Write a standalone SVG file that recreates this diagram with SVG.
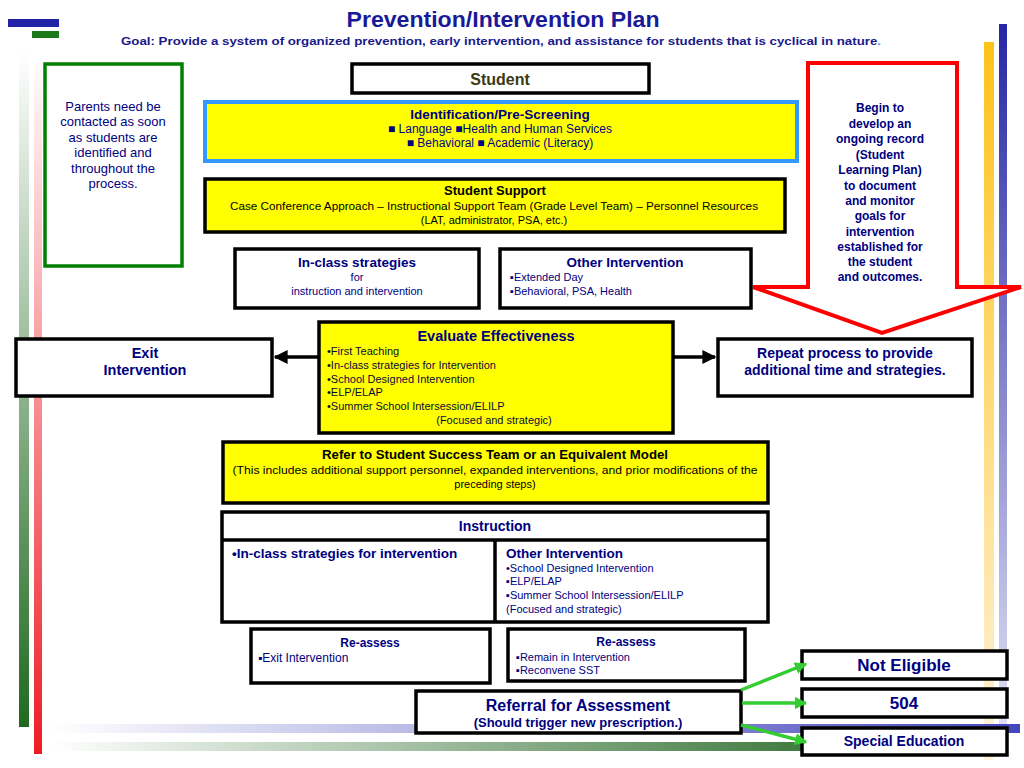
<svg xmlns="http://www.w3.org/2000/svg" width="1024" height="768" viewBox="0 0 1024 768">
<defs>
<linearGradient id="gGreenV" x1="0" y1="0" x2="0" y2="1"><stop offset="0" stop-color="#ffffff"/><stop offset="1" stop-color="#1f6a1f"/></linearGradient>
<linearGradient id="gRedV" x1="0" y1="0" x2="0" y2="1"><stop offset="0" stop-color="#ffffff"/><stop offset="1" stop-color="#ee1c24"/></linearGradient>
<linearGradient id="gYelV" x1="0" y1="0" x2="0" y2="1"><stop offset="0" stop-color="#ffc21a"/><stop offset="1" stop-color="#fff3dc"/></linearGradient>
<linearGradient id="gBlueV" x1="0" y1="0" x2="0" y2="1"><stop offset="0" stop-color="#2626a6"/><stop offset="1" stop-color="#e6e6f4"/></linearGradient>
<linearGradient id="gBlueH" x1="0" y1="0" x2="1" y2="0"><stop offset="0" stop-color="#ffffff"/><stop offset="1" stop-color="#4646bc"/></linearGradient>
<linearGradient id="gGreenH" x1="0" y1="0" x2="1" y2="0"><stop offset="0" stop-color="#ffffff"/><stop offset="1" stop-color="#3f7a3f"/></linearGradient>
<marker id="arrBlack" viewBox="0 0 10 10" refX="9" refY="5" markerWidth="4" markerHeight="4" orient="auto" markerUnits="strokeWidth"><path d="M0,0 L10,5 L0,10 Z" fill="#000"/></marker>
<marker id="arrGreen" viewBox="0 0 10 10" refX="9" refY="5" markerWidth="3.5" markerHeight="3.5" orient="auto" markerUnits="strokeWidth"><path d="M0,0 L10,5 L0,10 Z" fill="#33cc33"/></marker>
</defs>
<style>
text{font-family:"Liberation Sans",Arial,sans-serif;}
.box{fill:#ffffff;stroke:#000;stroke-width:3.5;}
.ybox{fill:#ffff00;stroke:#000;stroke-width:3.5;}
.navy{fill:#000080;}
.blk{fill:#000;}
.b{font-weight:bold;}
.c{text-anchor:middle;}
.t11{font-size:11px;}
.t12{font-size:12px;}
.t13{font-size:13px;}
.t135{font-size:13.5px;}
.t14{font-size:14px;}
.gl{stroke:#33cc33;stroke-width:3.5;fill:none;}
</style>
<rect width="1024" height="768" fill="#ffffff"/>
<rect x="8" y="19" width="51" height="8" fill="#2323a8"/>
<rect x="32" y="31" width="27" height="7" fill="#1a7a1a"/>
<rect x="19" y="50" width="10" height="677" fill="url(#gGreenV)"/>
<rect x="34" y="55" width="8" height="699" fill="url(#gRedV)"/>
<rect x="984" y="42" width="10" height="718" fill="url(#gYelV)"/>
<rect x="999" y="24" width="8" height="722" fill="url(#gBlueV)"/>
<rect x="50" y="724" width="970" height="9" fill="url(#gBlueH)"/>
<rect x="50" y="742" width="760" height="9" fill="url(#gGreenH)"/>
<text x="503" y="27" class="c b" font-size="22" fill="#1a1a99" textLength="313" lengthAdjust="spacingAndGlyphs">Prevention/Intervention Plan</text>
<text x="501" y="45" class="c b" font-size="11.5" fill="#1a1a8c" textLength="760" lengthAdjust="spacingAndGlyphs">Goal: Provide a system of organized prevention, early intervention, and assistance for students that is cyclical in nature<tspan fill="#3399ff">.</tspan></text>
<g id="parents">
<rect x="45" y="64" width="137" height="202" fill="#fff" stroke="#008000" stroke-width="3.5"/>
<g class="navy t13 c">
<text x="113" y="111">Parents need be</text>
<text x="113" y="126">contacted as soon</text>
<text x="113" y="142">as students are</text>
<text x="113" y="157">identified and</text>
<text x="113" y="173">throughout the</text>
<text x="113" y="188">process.</text>
</g>
</g>
<g id="record">
<path d="M808,63 L957,63 L957,287 L1021,287 L882,333 L753,287 L808,287 Z" fill="#fff" stroke="#ff0000" stroke-width="4" stroke-linejoin="miter"/>
<g class="navy b t12 c">
<text x="880" y="112">Begin to</text>
<text x="880" y="128">develop an</text>
<text x="880" y="143">ongoing record</text>
<text x="880" y="159">(Student</text>
<text x="880" y="174">Learning Plan)</text>
<text x="880" y="190">to document</text>
<text x="880" y="205">and monitor</text>
<text x="880" y="220">goals for</text>
<text x="880" y="236">intervention</text>
<text x="880" y="251">established for</text>
<text x="880" y="266">the student</text>
<text x="880" y="281">and outcomes.</text>
</g>
</g>
<g id="student">
<rect x="352" y="64" width="297" height="29" class="box"/>
<text x="500" y="85" class="c" font-size="16" fill="#3a3a14" font-weight="bold">Student</text>
</g>
<g id="identification">
<rect x="205" y="102" width="592" height="59" fill="#ffff00" stroke="#3399ff" stroke-width="4"/>
<text x="500" y="119" class="c b t135 navy">Identification/Pre-Screening</text>
<text x="500" y="133" class="c t12 navy">■ Language  ■Health and Human Services</text>
<text x="500" y="147" class="c t12 navy">■ Behavioral ■ Academic  (Literacy)</text>
</g>
<g id="support">
<rect x="205" y="179" width="580" height="53" class="ybox"/>
<text x="495" y="195" class="c b t13 blk">Student Support</text>
<text x="494" y="210" class="c t11 blk" textLength="528" lengthAdjust="spacingAndGlyphs">Case Conference Approach – Instructional Support Team (Grade Level Team) – Personnel Resources</text>
<text x="494" y="224" class="c t11 blk">(LAT, administrator, PSA, etc.)</text>
</g>
<g id="inclass">
<rect x="235" y="249" width="244" height="59" class="box"/>
<text x="357" y="267" class="c b t135 navy">In-class strategies</text>
<text x="357" y="281" class="c t11 navy">for</text>
<text x="357" y="295" class="c t11 navy">instruction and intervention</text>
</g>
<g id="other">
<rect x="500" y="249" width="251" height="59" class="box"/>
<text x="625" y="267" class="c b t135 navy">Other Intervention</text>
<text x="510" y="281" class="t11 navy">▪Extended Day</text>
<text x="510" y="295" class="t11 navy">▪Behavioral, PSA, Health</text>
</g>
<g id="evaluate">
<rect x="319" y="322" width="354" height="111" class="ybox"/>
<text x="496" y="341" class="c b navy" font-size="14.5">Evaluate Effectiveness</text>
<g class="t11" fill="#0a0a3a">
<text x="327" y="355">•First Teaching</text>
<text x="327" y="369">•In-class strategies for Intervention</text>
<text x="327" y="383">•School Designed Intervention</text>
<text x="327" y="396">•ELP/ELAP</text>
<text x="327" y="410">•Summer School Intersession/ELILP</text>
<text x="494" y="424" class="c">(Focused and strategic)</text>
</g>
</g>
<g id="exit">
<rect x="16" y="339" width="256" height="57" class="box"/>
<text x="145" y="358" class="c b navy" font-size="14.5">Exit</text>
<text x="145" y="375" class="c b navy" font-size="14.5">Intervention</text>
</g>
<g id="repeat">
<rect x="718" y="339" width="254" height="57" class="box"/>
<text x="845" y="358" class="c b t14 navy">Repeat process to provide</text>
<text x="845" y="375" class="c b t14 navy">additional time and strategies.</text>
</g>
<g id="refer">
<rect x="223" y="442" width="545" height="61" class="ybox"/>
<text x="495" y="459" class="c b blk" font-size="13" textLength="346" lengthAdjust="spacingAndGlyphs">Refer to Student Success Team or an Equivalent Model</text>
<text x="495" y="474" class="c t11 blk" textLength="525" lengthAdjust="spacingAndGlyphs">(This includes additional support personnel, expanded interventions, and prior modifications of the</text>
<text x="495" y="488" class="c t11 blk">preceding steps)</text>
</g>
<g id="instruction">
<rect x="222" y="512" width="546" height="110" class="box"/>
<line x1="222" y1="540" x2="768" y2="540" stroke="#000" stroke-width="3.5"/>
<line x1="495" y1="540" x2="495" y2="622" stroke="#000" stroke-width="3.5"/>
<text x="495" y="531" class="c b t14 navy">Instruction</text>
<text x="232" y="558" class="b t135 navy">•In-class strategies for intervention</text>
<text x="506" y="558" class="b t135 navy">Other Intervention</text>
<text x="506" y="572" class="t11 navy">•School Designed Intervention</text>
<text x="506" y="585" class="t11 navy">▪ELP/ELAP</text>
<text x="506" y="599" class="t11 navy">▪Summer School Intersession/ELILP</text>
<text x="506" y="613" class="t11 navy">(Focused and strategic)</text>
</g>
<g id="reassess1">
<rect x="251" y="629" width="239" height="54" class="box"/>
<text x="370" y="647" class="c b t12 navy">Re-assess</text>
<text x="258" y="662" class="t12 navy">▪Exit Intervention</text>
</g>
<g id="reassess2">
<rect x="508" y="629" width="237" height="52" class="box"/>
<text x="626" y="646" class="c b t12 navy">Re-assess</text>
<text x="516" y="661" class="t11 navy">▪Remain in Intervention</text>
<text x="516" y="674" class="t11 navy">▪Reconvene SST</text>
</g>
<g id="referral">
<rect x="416" y="691" width="325" height="42" class="box"/>
<text x="578" y="711" class="c b navy" font-size="16">Referral for Assessment</text>
<text x="578" y="727" class="c b t13 navy">(Should trigger new prescription.)</text>
</g>
<g id="noteligible">
<rect x="802" y="651" width="205" height="28" class="box"/>
<text x="904" y="671" class="c b navy" font-size="17">Not Eligible</text>
</g>
<g id="n504">
<rect x="802" y="689" width="205" height="28" class="box"/>
<text x="904" y="709" class="c b navy" font-size="17">504</text>
</g>
<g id="sped">
<rect x="802" y="728" width="205" height="27" class="box"/>
<text x="904" y="746" class="c b t14 navy">Special Education</text>
</g>
<g id="connectors">
<line x1="318" y1="357" x2="275" y2="357" stroke="#000" stroke-width="3.5" marker-end="url(#arrBlack)"/>
<line x1="674" y1="357" x2="715" y2="357" stroke="#000" stroke-width="3.5" marker-end="url(#arrBlack)"/>
<line x1="741" y1="690" x2="806" y2="664" class="gl" marker-end="url(#arrGreen)"/>
<line x1="742" y1="703" x2="806" y2="703" class="gl" marker-end="url(#arrGreen)"/>
<line x1="741" y1="725" x2="806" y2="742" class="gl" marker-end="url(#arrGreen)"/>
</g>
</svg>
